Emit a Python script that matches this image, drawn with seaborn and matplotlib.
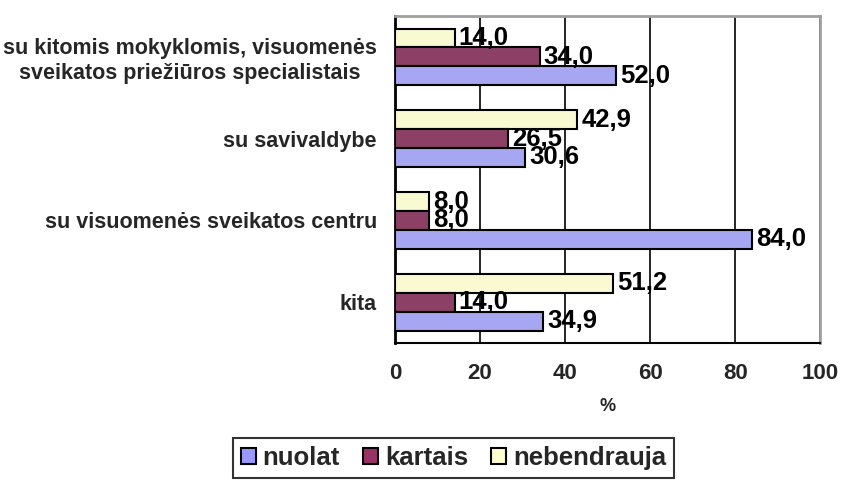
import pandas as pd
import matplotlib
matplotlib.use("Agg")
import matplotlib.pyplot as plt
import seaborn as sns
from matplotlib.patches import Patch

# categories, top to bottom
categories = [
    "su kitomis mokyklomis, visuomenės\nsveikatos priežiūros specialistais",
    "su savivaldybe",
    "su visuomenės sveikatos centru",
    "kita",
]
nuolat = [52.0, 30.6, 84.0, 34.9]
kartais = [34.0, 26.5, 8.0, 14.0]
nebendrauja = [14.0, 42.9, 8.0, 51.2]

series_names = ["nuolat", "kartais", "nebendrauja"]
series_values = [nuolat, kartais, nebendrauja]
colors = {"nuolat": "#9999FF", "kartais": "#993366", "nebendrauja": "#FFFFCC"}
x_ticks = [0, 20, 40, 60, 80, 100]

rows = []
for name, vals in zip(series_names, series_values):
    for cat, v in zip(categories, vals):
        rows.append({"kategorija": cat, "serija": name, "proc": v})
df = pd.DataFrame(rows)

sns.set_theme(style="white")
plt.rcParams["font.family"] = ["Liberation Sans", "DejaVu Sans"]
plt.rcParams["font.weight"] = "bold"

fig = plt.figure(figsize=(8.44, 4.82), dpi=100)
ax = fig.add_axes([0.468, 0.288, 0.504, 0.679])

# nebendrauja drawn at the top of each group, nuolat at the bottom
draw_order = ["nebendrauja", "kartais", "nuolat"]
sns.barplot(data=df, x="proc", y="kategorija", hue="serija", hue_order=draw_order,
            order=categories, palette=colors, orient="h", width=0.69,
            edgecolor="black", linewidth=1.5, legend=False, ax=ax, zorder=3)

# value labels with decimal comma
for cont, name in zip(ax.containers, draw_order):
    vals = series_values[series_names.index(name)]
    labels = [f"{v:.1f}".replace(".", ",") for v in vals]
    ax.bar_label(cont, labels=labels, padding=3, fontsize=18.5, fontweight="bold",
                 color="black")

ax.set_xlim(0, 100)
ax.set_ylim(len(categories) - 0.5, -0.5)
ax.set_xticks(x_ticks)
ax.set_xticklabels([str(t) for t in x_ticks], fontsize=16, fontweight="bold")
ax.tick_params(axis="x", direction="out", length=6, width=1.5, color="black", pad=8)

# category labels, tick marks on group boundaries
ax.set_yticks(range(len(categories)))
ax.set_yticklabels(categories, fontsize=15.5, fontweight="bold", ha="right",
                   multialignment="center", linespacing=1.25)
ax.tick_params(axis="y", which="major", length=0, pad=13)
ax.set_yticks([i - 0.5 for i in range(len(categories) + 1)], minor=True)
ax.tick_params(axis="y", which="minor", direction="out", length=6, width=1.5, color="black")

ax.set_xlabel("%", fontsize=13, fontweight="bold", labelpad=10)
ax.set_ylabel("")

ax.xaxis.grid(True, color="black", linewidth=1.2, zorder=0)
ax.yaxis.grid(False)
ax.set_axisbelow(True)

for side in ["top", "right"]:
    ax.spines[side].set_color("#A0A0A0")
    ax.spines[side].set_linewidth(2)
ax.spines["left"].set_color("black")
ax.spines["left"].set_linewidth(2)
ax.spines["bottom"].set_color("black")
ax.spines["bottom"].set_linewidth(1.5)

handles = [Patch(facecolor=colors[n], edgecolor="black", linewidth=1.5) for n in series_names]
leg = fig.legend(handles, series_names, loc="upper left", bbox_to_anchor=(0.276, 0.091),
                 ncol=3, fontsize=18.5, frameon=True, fancybox=False, edgecolor="black",
                 handlelength=0.6, handleheight=0.6, handletextpad=0.25,
                 columnspacing=0.9, borderpad=0.3, borderaxespad=0)
leg.get_frame().set_linewidth(1.5)
for t in leg.get_texts():
    t.set_fontweight("bold")

fig.savefig("out.png", dpi=100)
